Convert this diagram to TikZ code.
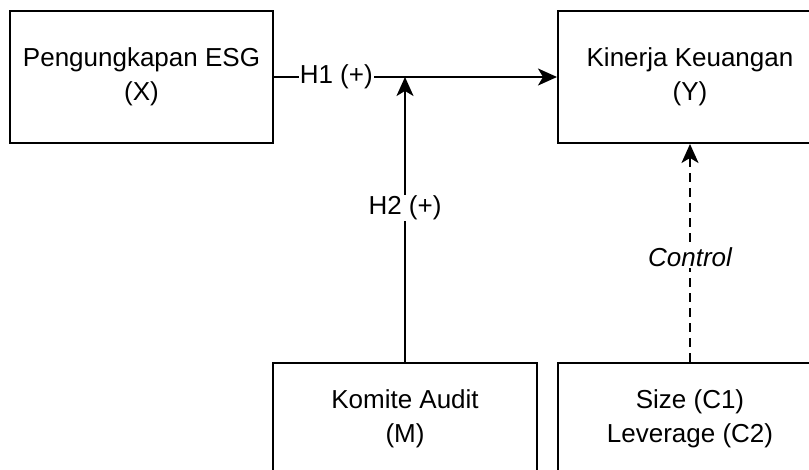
\documentclass[tikz,border=0pt]{standalone}
\usepackage{fontspec}
\setmainfont{Liberation Sans}
\usetikzlibrary{arrows.meta}

\begin{document}
\begin{tikzpicture}[x=1pt, y=-1pt,
  var/.style={draw, line width=2pt, align=center, minimum width=264pt,
    font=\fontsize{26}{34}\selectfont},
  arr/.style={line width=2pt, -{Stealth[length=19pt, width=17pt, inset=5pt]}},
  lbl/.style={fill=white, inner sep=1pt, font=\fontsize{26}{30}\selectfont}]
\clip (0,0) rectangle (809,470);
% top row: independent and dependent variable
\node[var, minimum width=263pt, minimum height=132pt] (X) at (141.5,77) {Pengungkapan ESG\\(X)};
\node[var, minimum height=132pt] (Y) at (690,77) {Kinerja Keuangan\\(Y)};
% bottom row: moderator and controls (cut by the page edge)
\node[var, minimum height=112pt] (M) at (405,419) {Komite Audit\\(M)};
\node[var, minimum height=112pt] (C) at (690,419) {Size (C1)\\Leverage (C2)};
% point where the moderator meets the main path
\coordinate (J) at (M.north |- X.east);
\draw[arr] (X.east) -- node[lbl, pos=0.22] {H1 (+)} (Y.west);
\draw[arr] (M.north) -- node[lbl, pos=0.54] {H2 (+)} (J);
\draw[arr, dash pattern=on 9pt off 6pt] (C.north) -- node[lbl, pos=0.48] {\itshape Control} (Y.south);
\end{tikzpicture}
\end{document}
